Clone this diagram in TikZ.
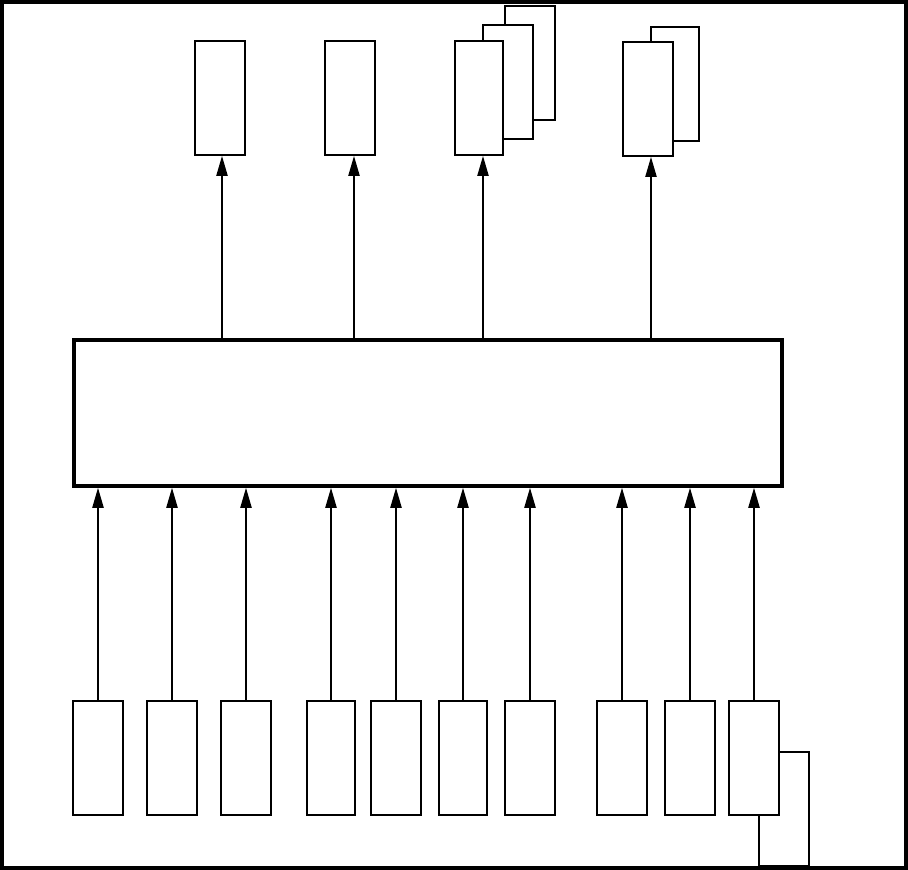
\documentclass[tikz,border=0pt]{standalone}
\usetikzlibrary{arrows.meta}

\begin{document}
\begin{tikzpicture}[x=0.75pt,y=-0.75pt,>={Triangle[length=15pt,width=8.5pt]}]
  \tikzstyle{part}=[draw,fill=white,line width=1.5pt,inner sep=0pt,
    minimum width=37.5pt,minimum height=85.5pt]
  \tikzstyle{core}=[draw,line width=2.8pt,inner sep=0pt,
    minimum width=531pt,minimum height=109.5pt]
  \tikzstyle{flow}=[->,line width=1pt]
  \useasboundingbox (0,0) rectangle (908,870);
  \draw[line width=2.8pt] (2,2) rectangle (906,868);
  % outputs
  \node[part] (t1) at (220,98) {};
  \node[part] (t2) at (350,98) {};
  \node[part] (t3c) at (530,63) {};
  \node[part] (t3b) at (508,82) {};
  \node[part,minimum width=36pt] (t3) at (479,98) {};
  \node[part,minimum width=36pt] (t4b) at (675,84) {};
  \node[part] (t4) at (648,99) {};
  % core block
  \node[core] (mid) at (428,413) {};
  % inputs
  \node[part] (b1) at (98,758) {};
  \node[part] (b2) at (172,758) {};
  \node[part] (b3) at (246,758) {};
  \node[part,minimum width=36pt] (b4) at (331,758) {};
  \node[part] (b5) at (396,758) {};
  \node[part,minimum width=36pt] (b6) at (463,758) {};
  \node[part] (b7) at (530,758) {};
  \node[part] (b8) at (622,758) {};
  \node[part] (b9) at (690,758) {};
  \node[part] (b10b) at (784,809) {};
  \node[part] (b10) at (754,758) {};
  \foreach \t/\dx in {t1/2,t2/4,t3/4,t4/3}
    \draw[flow] ([xshift=\dx*0.75pt]\t.south |- mid.north) -- ([xshift=\dx*0.75pt]\t.south);
  \foreach \b in {b1,b2,b3,b4,b5,b6,b7,b8,b9,b10}
    \draw[flow] (\b.north) -- (\b.north |- mid.south);
\end{tikzpicture}
\end{document}
